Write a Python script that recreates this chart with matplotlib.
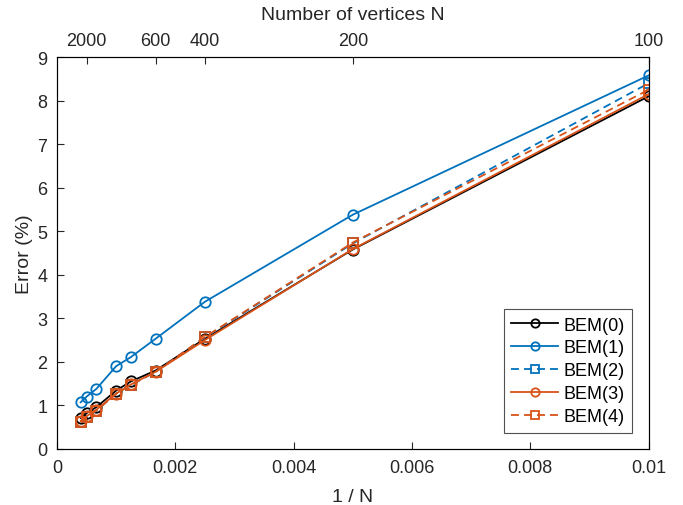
import numpy as np
import matplotlib.pyplot as plt

plt.rcParams['font.family'] = ['Liberation Sans', 'DejaVu Sans']

# Mesh sizes and inverse
N = np.array([2500, 2000, 1500, 1000, 800, 600, 400, 200, 100])
inv_N = 1.0 / N

# Error (%) per method
bem0 = [0.71, 0.82, 0.96, 1.34, 1.55, 1.80, 2.53, 4.58, 8.10]
bem1 = [1.07, 1.20, 1.38, 1.90, 2.11, 2.53, 3.38, 5.38, 8.58]
bem2 = [0.62, 0.73, 0.88, 1.27, 1.47, 1.77, 2.56, 4.72, 8.40]
bem3 = [0.64, 0.75, 0.90, 1.27, 1.48, 1.77, 2.50, 4.59, 8.15]
bem4 = [0.62, 0.74, 0.88, 1.27, 1.47, 1.77, 2.57, 4.74, 8.25]

top_ticks = [2000, 600, 400, 200, 100]

blue = '#0072BD'
orange = '#D95319'
txt = '#262626'

fig = plt.figure(figsize=(6.83, 5.06), dpi=100)
ax = fig.add_axes([0.0835, 0.111, 0.866, 0.774])

kw = dict(lw=1.3, ms=7.5, mfc='none', mew=1.3)
dash = (4.4, 2.8)
ax.plot(inv_N, bem0, '-o', color='black', label='BEM(0)', **kw)
ax.plot(inv_N, bem1, '-o', color=blue, label='BEM(1)', **kw)
ax.plot(inv_N, bem2, '--s', color=blue, label='BEM(2)', dashes=dash, **kw)
ax.plot(inv_N, bem3, '-o', color=orange, label='BEM(3)', **kw)
ax.plot(inv_N, bem4, '--s', color=orange, label='BEM(4)', dashes=dash, **kw)

ax.set_xlim(0, 0.01)
ax.set_ylim(0, 9)
ax.set_xticks([0, 0.002, 0.004, 0.006, 0.008, 0.01])
ax.set_xticklabels(['0', '0.002', '0.004', '0.006', '0.008', '0.01'])
ax.set_yticks(range(10))
ax.set_xlabel('1 / N', fontsize=14, color=txt, labelpad=9)
ax.set_ylabel('Error (%)', fontsize=14, color=txt, labelpad=3)
ax.tick_params(direction='in', labelsize=13, colors=txt, length=5, pad=7)
for s in ax.spines.values():
    s.set_color(txt)
    s.set_linewidth(0.8)

top = ax.twiny()
top.set_xlim(ax.get_xlim())
top.set_xticks([1.0 / n for n in top_ticks])
top.set_xticklabels([str(n) for n in top_ticks])
top.set_xlabel('Number of vertices N', fontsize=14, color=txt, labelpad=9)
top.tick_params(direction='in', labelsize=13, colors=txt, length=5, pad=6)

leg = ax.legend(loc='lower right', fontsize=13, frameon=True, fancybox=False,
                edgecolor=txt, handlelength=2.6, borderaxespad=0.9,
                labelspacing=0.33, handletextpad=0.3, borderpad=0.4,
                markerscale=0.8)
leg.get_frame().set_linewidth(0.8)

fig.savefig('out.png', dpi=100)
